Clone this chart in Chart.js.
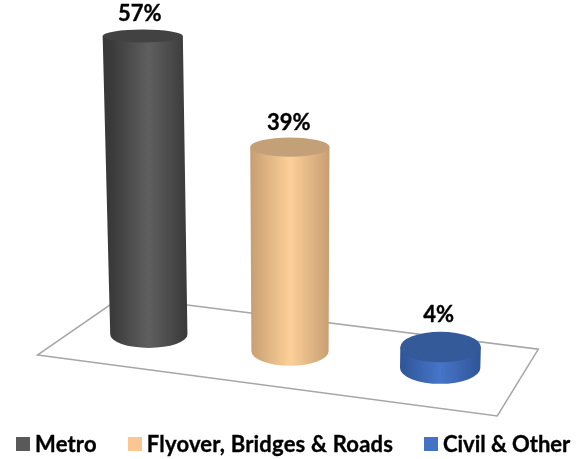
<!DOCTYPE html>
<html lang="en">
<head>
  <meta charset="UTF-8">
  <title>Order book split</title>
  <script src="https://cdn.jsdelivr.net/npm/chart.js"></script>
  <style>
    html, body { margin: 0; padding: 0; background: #fff; }
    #wrap { position: relative; width: 577px; height: 459px; }
    #legend {
      position: absolute; left: 16px; top: 430px; display: flex;
      font: bold 22px Lato, Carlito, sans-serif; color: #000; line-height: 28px;
      white-space: nowrap; letter-spacing: 0.2px; -webkit-text-stroke: 0.35px #000;
    }
    #legend span.item { display: flex; align-items: center; margin-right: 31px; }
    #legend span.item:last-child { letter-spacing: -0.05px; }
    #legend i { display: block; width: 14px; height: 14px; margin-right: 5px; }
  </style>
</head>
<body>
  <div id="wrap"><canvas id="chart"></canvas><div id="legend"></div></div>

<script>
const categories = ['Metro', 'Flyover, Bridges & Roads', 'Civil & Other'];
const shares = [57, 39, 4];

// colours: legend / side edge / side centre / top cap
const colors = ['#595959', '#fac793', '#4472c4'];
const edgeColors = ['#393939', '#c9a073', '#2f5597'];
const midColors = ['#5f5f5f', '#fdcf98', '#4675c9'];
const capColors = ['#424242', '#c4a078', '#345a99'];

// floor outline, in scale units (category index, value)
const floorX = [-0.763, -0.186, 2.674, 2.392];
const floorY = [-3.9, 7.2, -2.8, -15.55];

const font = "Lato, Carlito, 'Open Sans', sans-serif";

// hand tweaks per bar, the perspective in the original isn't regular
const nudgeX = [0, -4.5, 0];
const widen = [1, 1, 1.04];
const deepen = [1, 1.06, 1.12];
const labelDx = [-3, -1, -2];
const labelGap = [11.5, 13, 21];

// depth of the ellipse grows toward the bottom of the picture
function depth(y) {
  return 6.5 + (y - 35) * 0.023;
}

const cylinders = {
  id: 'cylinders',
  beforeDatasetsDraw(chart) {
    const { ctx, scales } = chart;
    ctx.save();
    ctx.beginPath();
    floorX.forEach((v, i) => {
      const px = scales.x.getPixelForValue(v);
      const py = scales.y.getPixelForValue(floorY[i]);
      if (i === 0) ctx.moveTo(px, py); else ctx.lineTo(px, py);
    });
    ctx.closePath();
    ctx.strokeStyle = '#a6a6a6';
    ctx.lineWidth = 1.5;
    ctx.stroke();
    ctx.restore();
  },
  beforeDatasetDraw(chart, args) {
    const { ctx } = chart;
    const bars = args.meta.data;
    const x0 = bars[0].x;
    const xMid = bars[1].x;
    bars.forEach((bar, i) => {
      const drop = (bar.x - x0) * 0.115;
      const baseX = bar.x + nudgeX[i];
      const baseY = bar.base + drop;
      const topY = bar.y + drop;
      const h = baseY - topY;
      const topX = baseX + (baseX - xMid) * 0.00014 * h;
      const w = bar.width / 2 * widen[i];
      const topW = w * (1 + 0.00013 * h);

      const grad = ctx.createLinearGradient(baseX - w, 0, baseX + w, 0);
      grad.addColorStop(0, edgeColors[i]);
      grad.addColorStop(0.5, midColors[i]);
      grad.addColorStop(1, edgeColors[i]);

      ctx.save();
      ctx.beginPath();
      ctx.moveTo(topX - topW, topY);
      ctx.lineTo(baseX - w, baseY);
      ctx.ellipse(baseX, baseY, w, depth(baseY) * deepen[i], 0, Math.PI, 0, true);
      ctx.lineTo(topX + topW, topY);
      ctx.closePath();
      ctx.fillStyle = grad;
      ctx.fill();

      ctx.beginPath();
      ctx.ellipse(topX, topY, topW, depth(topY) * deepen[i], 0, 0, Math.PI * 2);
      ctx.fillStyle = capColors[i];
      ctx.fill();

      ctx.fillStyle = '#000';
      ctx.strokeStyle = '#000';
      ctx.lineWidth = 0.35;
      ctx.font = 'bold 22px ' + font;
      ctx.textAlign = 'center';
      ctx.textBaseline = 'bottom';
      const text = shares[i] + '%';
      ctx.fillText(text, topX + labelDx[i], topY - labelGap[i]);
      ctx.strokeText(text, topX + labelDx[i], topY - labelGap[i]);
      ctx.restore();
    });
    return false;
  }
};

new Chart(document.getElementById('chart'), {
  type: 'bar',
  data: {
    labels: categories,
    datasets: [{
      label: 'Share',
      data: shares,
      backgroundColor: colors,
      barPercentage: 0.53,
      categoryPercentage: 1
    }]
  },
  plugins: [cylinders],
  options: {
    responsive: true,
    maintainAspectRatio: false,
    animation: false,
    layout: { padding: { left: 76, right: 64, top: 36, bottom: 124.5 } },
    scales: {
      x: { display: false },
      y: { display: false, min: 0, max: 57 }
    },
    plugins: {
      tooltip: { enabled: false },
      legend: { display: false }
    }
  }
});

// legend sits under the floor, one row, tighter than the built-in one
document.getElementById('legend').innerHTML = categories.map((c, i) =>
  '<span class="item"><i style="background:' + colors[i] + '"></i>' +
  c.replace('&', '&amp;') + '</span>').join('');
</script>
</body>
</html>
